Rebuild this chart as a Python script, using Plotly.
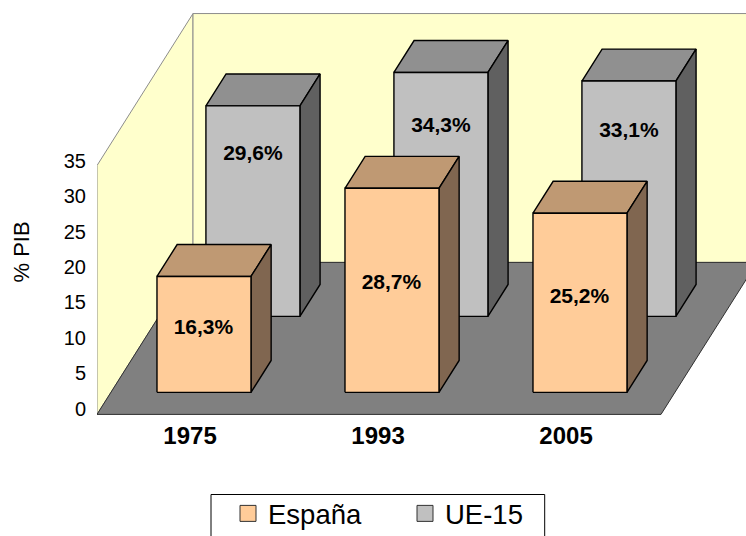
import plotly.graph_objects as go

categories = ["1975", "1993", "2005"]
espana = [16.3, 28.7, 25.2]
ue15 = [29.6, 34.3, 33.1]
espana_labels = ["16,3%", "28,7%", "25,2%"]
ue15_labels = ["29,6%", "34,3%", "33,1%"]
y_ticks = [0, 5, 10, 15, 20, 25, 30, 35]

FONT = "Liberation Sans, Arial, sans-serif"
W, H = 746, 536
LEFT, BOTTOM_PX = 97, 416
SLOT = 188.0
PX_PER_UNIT = 7.11
FLOOR_PX = 414.4
DEPTH_X, DEPTH_Y = 96.0, 152.0
Y_MAX = 35

X_RANGE = [0, (W - LEFT) / SLOT]
Y_RANGE = [(FLOOR_PX - BOTTOM_PX) / PX_PER_UNIT, FLOOR_PX / PX_PER_UNIT]
LABEL_PX_ZERO, LABEL_PX_UNIT = 408.5, 7.07
Y2_RANGE = [(LABEL_PX_ZERO - BOTTOM_PX) / LABEL_PX_UNIT, LABEL_PX_ZERO / LABEL_PX_UNIT]

# where each data label sits, as a share of its bar's height
ES_LABEL_SHARE = [0.549, 0.530, 0.529]
UE_LABEL_SHARE = [0.766, 0.777, 0.785]


def project(slot, depth, value):
    return (slot + depth * DEPTH_X / SLOT, value + depth * DEPTH_Y / PX_PER_UNIT)


def polygon(points, fill, line, width=1.0):
    pts = [project(*p) for p in points]
    pts.append(pts[0])
    return go.Scatter(
        x=[p[0] for p in pts], y=[p[1] for p in pts],
        mode="lines", fill="toself", fillcolor=fill,
        line=dict(color=line, width=width), showlegend=False, hoverinfo="skip",
    )


def bar_faces(slot, d0, d1, value, front, top, side, shift):
    x0, x1 = slot + 0.245 + shift, slot + 0.745 + shift
    return [
        polygon([(x0, d0, value), (x1, d0, value), (x1, d1, value), (x0, d1, value)], top, "black", 1.4),
        polygon([(x1, d0, 0), (x1, d1, 0), (x1, d1, value), (x1, d0, value)], side, "black", 1.4),
        polygon([(x0, d0, 0), (x1, d0, 0), (x1, d0, value), (x0, d0, value)], front, "black", 1.4),
    ]


fig = go.Figure()
n = len(categories)
far = X_RANGE[1] + 1

# walls and floor
fig.add_trace(polygon([(0, 0, 0), (0, 1, 0), (0, 1, Y_MAX), (0, 0, Y_MAX)], "#FFFFCC", "#8C8C8C"))
fig.add_trace(polygon([(0, 1, 0), (far, 1, 0), (far, 1, Y_MAX), (0, 1, Y_MAX)], "#FFFFCC", "#8C8C8C"))
fig.add_trace(polygon([(0, 0, 0), (n, 0, 0), (n, 1, 0), (0, 1, 0)], "#808080", "#303030"))

# bars, back row first
UE_D = (0.645, 0.855)
ES_D = (0.145, 0.355)
UE_SHIFT, ES_SHIFT = 0.005, 0.0
for i, v in enumerate(ue15):
    for t in bar_faces(i, *UE_D, v, "#C0C0C0", "#909090", "#606060", UE_SHIFT):
        fig.add_trace(t)
for i, v in enumerate(espana):
    for t in bar_faces(i, *ES_D, v, "#FFCC99", "#BF9973", "#806650", ES_SHIFT):
        fig.add_trace(t)

# data labels
for vals, labs, d, shares, shift in [
    (ue15, ue15_labels, UE_D[0], UE_LABEL_SHARE, UE_SHIFT),
    (espana, espana_labels, ES_D[0], ES_LABEL_SHARE, -0.003),
]:
    xs, ys = [], []
    for i, (v, s) in enumerate(zip(vals, shares)):
        px, py = project(i + 0.495 + shift, d, v * s)
        xs.append(px)
        ys.append(py)
    fig.add_trace(go.Scatter(
        x=xs, y=ys, text=labs, mode="text", textposition="middle center",
        textfont=dict(family=FONT, size=21, color="black", weight="bold"),
        showlegend=False, hoverinfo="skip", cliponaxis=False,
    ))

# legend entries
fig.add_trace(go.Scatter(x=[None], y=[None], mode="markers", name="España",
                         marker=dict(symbol="square", size=16, color="#FFCC99", line=dict(color="#303030", width=1))))
fig.add_trace(go.Scatter(x=[None], y=[None], mode="markers", name="UE-15",
                         marker=dict(symbol="square", size=16, color="#C0C0C0", line=dict(color="#303030", width=1))))

# carrier for the value axis, whose labels sit slightly above the front edge
fig.add_trace(go.Scatter(x=[0] * len(y_ticks), y=y_ticks, yaxis="y2", mode="markers",
                         marker=dict(opacity=0, size=1), showlegend=False, hoverinfo="skip"))

PW, PH = W - LEFT, BOTTOM_PX


def paper_x(px):
    return (px - LEFT) / PW


def paper_y(py):
    return (BOTTOM_PX - py) / PH


fig.update_layout(
    width=W, height=H,
    margin=dict(l=LEFT, r=0, t=0, b=H - BOTTOM_PX, pad=0, autoexpand=False),
    paper_bgcolor="white", plot_bgcolor="white",
    font=dict(family=FONT, color="black"),
    xaxis=dict(range=X_RANGE, tickmode="array", tickvals=[i + 0.495 for i in range(n)], ticktext=categories,
               showgrid=False, zeroline=False, showline=False, ticks="", ticklabelstandoff=3,
               tickfont=dict(family=FONT, size=24, color="black", weight="bold"), fixedrange=True),
    yaxis=dict(range=Y_RANGE, showgrid=False, zeroline=False, showline=False, showticklabels=False,
               ticks="", fixedrange=True),
    yaxis2=dict(range=Y2_RANGE, overlaying="y", side="left", tickmode="array", tickvals=y_ticks,
                showgrid=False, zeroline=False, showline=False, ticks="outside", ticklen=6,
                tickcolor="rgba(0,0,0,0)", tickfont=dict(family=FONT, size=20, color="black"),
                fixedrange=True),
    annotations=[dict(text="% PIB", textangle=-90, xref="paper", yref="paper",
                      x=paper_x(20.5), y=paper_y(252), xanchor="center", yanchor="middle", showarrow=False,
                      font=dict(family=FONT, size=22, color="black"))],
    shapes=[dict(type="rect", xref="paper", yref="paper", x0=paper_x(211), x1=paper_x(544.7),
                 y0=paper_y(494.5), y1=paper_y(545), line=dict(color="black", width=1), fillcolor="rgba(0,0,0,0)")],
    legend=dict(orientation="h", x=paper_x(211), xanchor="left",
                y=paper_y(489), yanchor="top",
                bgcolor="rgba(0,0,0,0)", borderwidth=0,
                font=dict(family=FONT, size=27.5, color="black"),
                entrywidth=115, entrywidthmode="pixels", indentation=17),
    showlegend=True,
)

fig.write_html("out.html", config=dict(displayModeBar=False), post_script="document.body.style.margin='0';")
